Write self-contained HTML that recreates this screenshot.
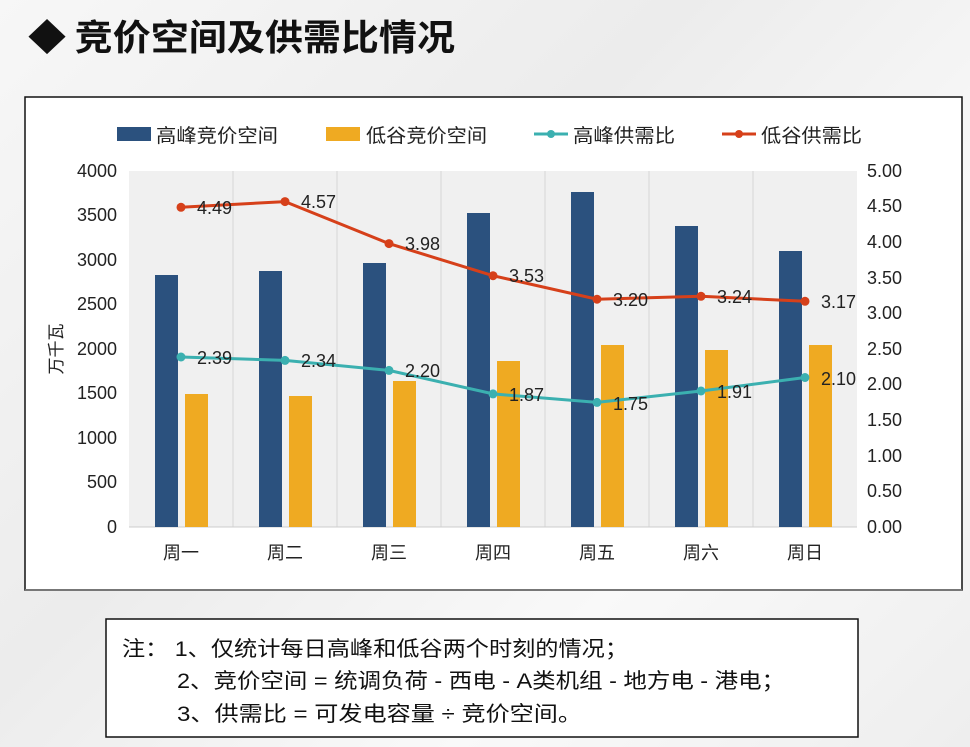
<!DOCTYPE html>
<html><head><meta charset="utf-8"><style>
body{margin:0;width:970px;height:747px;overflow:hidden;background:linear-gradient(135deg,#f7f7f7,#ececec 40%,#f9f9f9 70%,#eeeeee);font-family:"Liberation Sans","Noto Sans CJK SC",sans-serif;}
</style></head><body>
<svg width="970" height="747" xmlns="http://www.w3.org/2000/svg" style="position:absolute;left:0;top:0">
<text x="28" y="50" font-size="36" font-weight="bold" fill="#111" font-family="Noto Sans CJK SC,sans-serif" textLength="427" lengthAdjust="spacingAndGlyphs">◆ 竞价空间及供需比情况</text>
<rect x="25" y="97" width="937" height="493" fill="#fff" stroke="#111" stroke-width="1.5"/>
<line x1="25" y1="590" x2="962" y2="590" stroke="#777" stroke-width="2"/>
<rect x="129" y="171" width="728" height="356" fill="#f0f0f0"/>
<g stroke="#d6d6d6" stroke-width="1">
<line x1="233" y1="171" x2="233" y2="527"/><line x1="337" y1="171" x2="337" y2="527"/><line x1="441" y1="171" x2="441" y2="527"/><line x1="545" y1="171" x2="545" y2="527"/><line x1="649" y1="171" x2="649" y2="527"/><line x1="753" y1="171" x2="753" y2="527"/><line x1="129" y1="527" x2="857" y2="527" stroke="#ccc"/>
</g>
<g font-size="19" fill="#222" font-family="Liberation Sans,Noto Sans CJK SC,sans-serif">
<rect x="117" y="127" width="34" height="14" fill="#2b517e"/><text x="156" y="142" textLength="122" lengthAdjust="spacingAndGlyphs">高峰竞价空间</text>
<rect x="326" y="127" width="34" height="14" fill="#efaa22"/><text x="366" y="142" textLength="121" lengthAdjust="spacingAndGlyphs">低谷竞价空间</text>
<line x1="534" y1="134" x2="568" y2="134" stroke="#3bb0b0" stroke-width="3"/><circle cx="551" cy="134" r="4" fill="#3bb0b0"/><text x="573" y="142" textLength="102" lengthAdjust="spacingAndGlyphs">高峰供需比</text>
<line x1="722" y1="134" x2="756" y2="134" stroke="#d6401a" stroke-width="3"/><circle cx="739" cy="134" r="4" fill="#d6401a"/><text x="761" y="142" textLength="101" lengthAdjust="spacingAndGlyphs">低谷供需比</text>
</g>
<g font-size="18" fill="#222" text-anchor="end">
<text x="117" y="177">4000</text><text x="117" y="221">3500</text><text x="117" y="266">3000</text><text x="117" y="310">2500</text><text x="117" y="355">2000</text><text x="117" y="399">1500</text><text x="117" y="444">1000</text><text x="117" y="488">500</text><text x="117" y="533">0</text>
</g>
<g font-size="18" fill="#222">
<text x="867" y="177">5.00</text><text x="867" y="212">4.50</text><text x="867" y="248">4.00</text><text x="867" y="284">3.50</text><text x="867" y="319">3.00</text><text x="867" y="355">2.50</text><text x="867" y="390">2.00</text><text x="867" y="426">1.50</text><text x="867" y="462">1.00</text><text x="867" y="497">0.50</text><text x="867" y="533">0.00</text>
</g>
<text transform="translate(62,349) rotate(-90)" font-size="17" fill="#222" text-anchor="middle">万千瓦</text>
<g fill="#2b517e">
<rect x="155" y="275" width="23" height="252"/><rect x="259" y="271" width="23" height="256"/><rect x="363" y="263" width="23" height="264"/><rect x="467" y="213" width="23" height="314"/><rect x="571" y="192" width="23" height="335"/><rect x="675" y="226" width="23" height="301"/><rect x="779" y="251" width="23" height="276"/>
</g>
<g fill="#efaa22">
<rect x="185" y="394" width="23" height="133"/><rect x="289" y="396" width="23" height="131"/><rect x="393" y="381" width="23" height="146"/><rect x="497" y="361" width="23" height="166"/><rect x="601" y="345" width="23" height="182"/><rect x="705" y="350" width="23" height="177"/><rect x="809" y="345" width="23" height="182"/>
</g>
<polyline points="181,357 285,360.4 389,370.4 493,393.9 597,402.4 701,391 805,377.5" fill="none" stroke="#3bb0b0" stroke-width="3"/>
<polyline points="181,207.3 285,201.6 389,243.6 493,275.7 597,299.2 701,296.3 805,301.3" fill="none" stroke="#d6401a" stroke-width="3"/>
<g fill="#3bb0b0"><circle cx="181" cy="357" r="4.5"/><circle cx="285" cy="360.4" r="4.5"/><circle cx="389" cy="370.4" r="4.5"/><circle cx="493" cy="393.9" r="4.5"/><circle cx="597" cy="402.4" r="4.5"/><circle cx="701" cy="391" r="4.5"/><circle cx="805" cy="377.5" r="4.5"/></g>
<g fill="#d6401a"><circle cx="181" cy="207.3" r="4.5"/><circle cx="285" cy="201.6" r="4.5"/><circle cx="389" cy="243.6" r="4.5"/><circle cx="493" cy="275.7" r="4.5"/><circle cx="597" cy="299.2" r="4.5"/><circle cx="701" cy="296.3" r="4.5"/><circle cx="805" cy="301.3" r="4.5"/></g>
<g font-size="18" fill="#222">
<text x="197" y="364">2.39</text><text x="301" y="367">2.34</text><text x="405" y="377">2.20</text><text x="509" y="401">1.87</text><text x="613" y="410">1.75</text><text x="717" y="398">1.91</text><text x="821" y="385">2.10</text>
<text x="197" y="214">4.49</text><text x="301" y="208">4.57</text><text x="405" y="250">3.98</text><text x="509" y="282">3.53</text><text x="613" y="306">3.20</text><text x="717" y="303">3.24</text><text x="821" y="308">3.17</text>
</g>
<g font-size="18" fill="#222" text-anchor="middle" font-family="Noto Sans CJK SC,sans-serif">
<text x="181" y="559">周一</text><text x="285" y="559">周二</text><text x="389" y="559">周三</text><text x="493" y="559">周四</text><text x="597" y="559">周五</text><text x="701" y="559">周六</text><text x="805" y="559">周日</text>
</g>
<rect x="106" y="619" width="752" height="118" fill="#fff" stroke="#111" stroke-width="1.5"/>
<g font-size="21" fill="#111" font-family="Liberation Sans,Noto Sans CJK SC,sans-serif">
<text x="122" y="656" textLength="506" lengthAdjust="spacingAndGlyphs">注： 1、仅统计每日高峰和低谷两个时刻的情况；</text>
<text x="177" y="688" textLength="608" lengthAdjust="spacingAndGlyphs">2、竞价空间 = 统调负荷 - 西电 - A类机组 - 地方电 - 港电；</text>
<text x="177" y="721" textLength="405" lengthAdjust="spacingAndGlyphs">3、供需比 = 可发电容量 ÷ 竞价空间。</text>
</g>
</svg>
</body></html>
